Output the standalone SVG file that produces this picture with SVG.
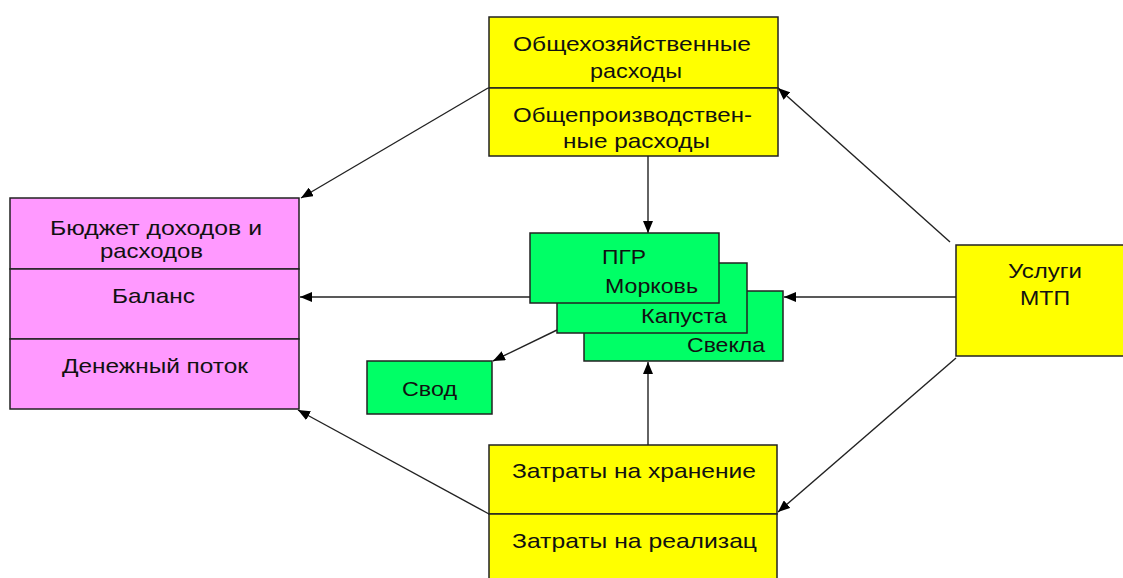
<svg xmlns="http://www.w3.org/2000/svg" width="1123" height="578" viewBox="0 0 1123 578">
<style>
.t{font-family:"Liberation Sans",Arial,sans-serif;font-size:21px;fill:#111}
.y{fill:#ffff00;stroke:#222;stroke-width:1.5}
.p{fill:#ff99ff;stroke:#222;stroke-width:1.5}
.g{fill:#00ff66;stroke:#222;stroke-width:1.5}
.c{stroke:#222;stroke-width:1.4;fill:none;marker-end:url(#ah)}
</style>
<defs>
<marker id="ah" viewBox="0 0 12 10" refX="12" refY="5" markerWidth="12" markerHeight="10" markerUnits="userSpaceOnUse" orient="auto">
<path d="M0,0 L12,5 L0,10 z" fill="#000"/>
</marker>
</defs>
<rect width="1123" height="578" fill="#fff"/>
<g id="connectors">
<line class="c" x1="488" y1="88" x2="301" y2="198"/>
<line class="c" x1="648" y1="156" x2="648" y2="233"/>
<line class="c" x1="530" y1="297" x2="300" y2="297"/>
<line class="c" x1="956" y1="297" x2="784" y2="297"/>
<line class="c" x1="950" y1="242" x2="778" y2="88"/>
<line class="c" x1="956" y1="358" x2="778" y2="512"/>
<line class="c" x1="648" y1="445" x2="648" y2="362"/>
<line class="c" x1="489" y1="514" x2="298" y2="410"/>
<line class="c" x1="557" y1="330" x2="493" y2="361"/>
</g>
<g id="node-top">
<rect class="y" x="489" y="17" width="289" height="71"/>
<rect class="y" x="489" y="88" width="289" height="68"/>
<text class="t" x="513" y="51" textLength="238" lengthAdjust="spacingAndGlyphs">Общехозяйственные</text>
<text class="t" x="590" y="78" textLength="92" lengthAdjust="spacingAndGlyphs">расходы</text>
<text class="t" x="513" y="122" textLength="239" lengthAdjust="spacingAndGlyphs">Общепроизводствен-</text>
<text class="t" x="563" y="148" textLength="147" lengthAdjust="spacingAndGlyphs">ные расходы</text>
</g>
<g id="node-pink">
<rect class="p" x="10" y="198" width="289" height="71"/>
<rect class="p" x="10" y="269" width="289" height="70"/>
<rect class="p" x="10" y="339" width="289" height="70"/>
<text class="t" x="50" y="235" textLength="212" lengthAdjust="spacingAndGlyphs">Бюджет доходов и</text>
<text class="t" x="100" y="258" textLength="103" lengthAdjust="spacingAndGlyphs">расходов</text>
<text class="t" x="112" y="303" textLength="83" lengthAdjust="spacingAndGlyphs">Баланс</text>
<text class="t" x="62" y="373" textLength="186" lengthAdjust="spacingAndGlyphs">Денежный поток</text>
</g>
<g id="node-green">
<rect class="g" x="584" y="291" width="199" height="70"/>
<rect class="g" x="557" y="263" width="190" height="70"/>
<rect class="g" x="530" y="233" width="189" height="70"/>
<text class="t" x="602" y="264" textLength="44" lengthAdjust="spacingAndGlyphs">ПГР</text>
<text class="t" x="605" y="293" textLength="93" lengthAdjust="spacingAndGlyphs">Морковь</text>
<text class="t" x="641" y="323" textLength="86" lengthAdjust="spacingAndGlyphs">Капуста</text>
<text class="t" x="687" y="352" textLength="78" lengthAdjust="spacingAndGlyphs">Свекла</text>
</g>
<g id="node-svod">
<rect class="g" x="367" y="361" width="125" height="53"/>
<text class="t" x="402" y="396" textLength="55" lengthAdjust="spacingAndGlyphs">Свод</text>
</g>
<g id="node-mtp">
<rect class="y" x="956" y="245" width="175" height="111"/>
<text class="t" x="1008" y="278" textLength="74" lengthAdjust="spacingAndGlyphs">Услуги</text>
<text class="t" x="1020" y="305" textLength="50" lengthAdjust="spacingAndGlyphs">МТП</text>
</g>
<g id="node-bottom">
<rect class="y" x="489" y="445" width="288" height="69"/>
<rect class="y" x="489" y="514" width="288" height="70"/>
<text class="t" x="512" y="478" textLength="244" lengthAdjust="spacingAndGlyphs">Затраты на хранение</text>
<text class="t" x="512" y="548" textLength="245" lengthAdjust="spacingAndGlyphs">Затраты на реализац</text>
</g>
</svg>
